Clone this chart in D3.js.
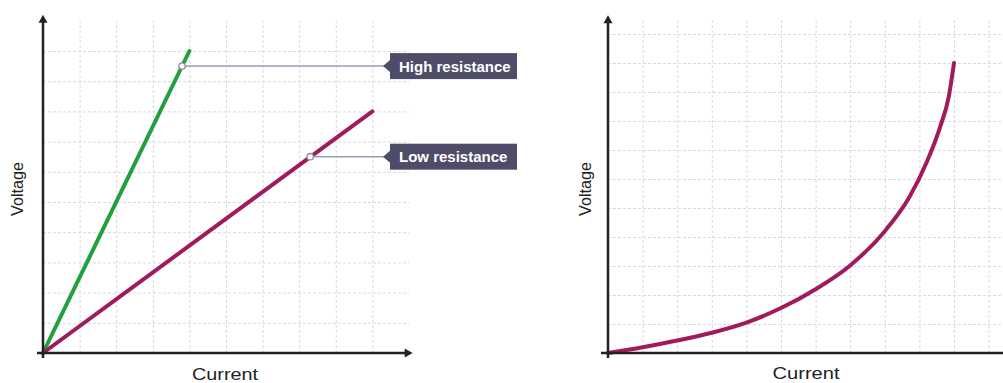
<!DOCTYPE html>
<html><head><meta charset="utf-8">
<script src="https://cdn.jsdelivr.net/npm/d3@7"></script>
<style>
html,body{margin:0;padding:0;background:#fff;}
svg{display:block;}
text{font-family:"Liberation Sans",Arial,sans-serif;}
</style></head>
<body>
<svg id="chart" width="1003" height="383"></svg>
<script>
// ---- Data ----
const leftGridX = [1,2,3,4,5,6,7,8,9];
const leftGridY = [1,2,3,4,5,6,7,8,9,10];
const highCurrent = [0, 4];
const highVoltage = [0, 10];
const lowCurrent = [0, 9];
const lowVoltage = [0, 8];
const labelNames = ["High resistance", "Low resistance"];
const markerCurrent = [3.8, 7.3];
const markerVoltage = [9.5, 6.5];

const rightGridX = [1,2,3,4,5,6,7,8,9,10,11];
const rightGridY = [1,2,3,4,5,6,7,8,9,10,11];
const curveCurrent = [0, 1, 2, 3, 4, 5, 6, 7, 8, 8.7, 9.2, 9.6, 9.85, 10];
const curveVoltage = [0, 0.2, 0.43, 0.7, 1.05, 1.55, 2.2, 3.02, 4.2, 5.35, 6.55, 7.8, 8.85, 10];

const xTitle = "Current", yTitle = "Voltage";

const svg = d3.select("#chart");
const GRID = "#d9d7ea", AXIS = "#222", GREEN = "#23a03e", PURPLE = "#a01a5c", BOX = "#4e4c69";

function grid(g, x, y, gx, gy, xMax, yMax) {
  g.append("g").attr("transform", `translate(0,${y(0)})`)
    .call(d3.axisBottom(x).tickValues(gx).tickFormat("").tickSize(-(y(0) - y(yMax))).tickSizeOuter(0))
    .call(a => a.select(".domain").remove())
    .call(a => a.selectAll("line").attr("stroke", GRID).attr("stroke-dasharray", "3,2").attr("stroke-width", 1));
  g.append("g").attr("transform", `translate(${x(0)},0)`)
    .call(d3.axisLeft(y).tickValues(gy).tickFormat("").tickSize(-(x(xMax) - x(0))).tickSizeOuter(0))
    .call(a => a.select(".domain").remove())
    .call(a => a.selectAll("line").attr("stroke", GRID).attr("stroke-dasharray", "3,2").attr("stroke-width", 1));
}

function yAxis(g, x, y, yTip) {
  const ox = x(0), oy = y(0), ty = y(yTip);
  g.append("line").attr("x1", ox).attr("x2", ox).attr("y1", oy + 5).attr("y2", ty + 5)
    .attr("stroke", AXIS).attr("stroke-width", 2.5);
  g.append("path").attr("d", `M${ox},${ty} L${ox - 4.5},${ty + 8} L${ox + 4.5},${ty + 8} Z`).attr("fill", AXIS);
}

function title(g, x, y, txt, len, rotate) {
  const t = g.append("text").attr("text-anchor", "middle").attr("font-size", 17).attr("fill", "#222")
    .attr("textLength", len).attr("lengthAdjust", "spacingAndGlyphs").text(txt);
  if (rotate) t.attr("transform", `translate(${x},${y}) rotate(-90)`);
  else t.attr("x", x).attr("y", y);
}

// ---- Left chart ----
const xL = d3.scaleLinear().domain([0, 10]).range([43, 409]);
const yL = d3.scaleLinear().domain([0, 10]).range([353, 51]);
const gL = svg.append("g");
grid(gL, xL, yL, leftGridX, leftGridY, 10, 11);

const line = d3.line().x(d => d[0]).y(d => d[1]);
gL.append("path").attr("d", line(highCurrent.map((c, i) => [xL(c), yL(highVoltage[i])])))
  .attr("fill", "none").attr("stroke", GREEN).attr("stroke-width", 4).attr("stroke-linecap", "round");
gL.append("path").attr("d", line(lowCurrent.map((c, i) => [xL(c), yL(lowVoltage[i])])))
  .attr("fill", "none").attr("stroke", PURPLE).attr("stroke-width", 4).attr("stroke-linecap", "round");

yAxis(gL, xL, yL, 11.2);
{
  const oy = yL(0), tx = xL(10.1);
  gL.append("line").attr("x1", xL(0) - 6).attr("x2", tx - 5).attr("y1", oy).attr("y2", oy)
    .attr("stroke", AXIS).attr("stroke-width", 2.5);
  gL.append("path").attr("d", `M${tx},${oy} L${tx - 8},${oy - 4.5} L${tx - 8},${oy + 4.5} Z`).attr("fill", AXIS);
}

labelNames.forEach((name, i) => {
  const mx = xL(markerCurrent[i]), my = yL(markerVoltage[i]);
  const bx = 390, bw = 127, bh = 26;
  gL.append("line").attr("x1", mx).attr("x2", bx - 6).attr("y1", my).attr("y2", my)
    .attr("stroke", "#9c9bb2").attr("stroke-width", 1.5);
  gL.append("circle").attr("cx", mx).attr("cy", my).attr("r", 3.2)
    .attr("fill", "#fff").attr("stroke", "#8c8ba4").attr("stroke-width", 1.3);
  gL.append("path").attr("d", `M${bx - 7},${my} L${bx},${my - 6} L${bx},${my + 6} Z`).attr("fill", BOX);
  gL.append("rect").attr("x", bx).attr("y", my - bh / 2).attr("width", bw).attr("height", bh).attr("fill", BOX);
  gL.append("text").attr("x", bx + 9).attr("y", my + 5.5).text(name)
    .attr("fill", "#fff").attr("font-size", 15).attr("font-weight", "bold");
});

title(gL, 225, 380, xTitle, 66, false);
title(gL, 23, 189, yTitle, 54, true);

// ---- Right chart ----
const xR = d3.scaleLinear().domain([0, 10]).range([608, 954]);
const yR = d3.scaleLinear().domain([0, 10]).range([353, 63]);
const gR = svg.append("g");
grid(gR, xR, yR, rightGridX, rightGridY, 11.5, 11.5);

gR.append("path")
  .attr("d", d3.line().curve(d3.curveMonotoneX).x(d => xR(d[0])).y(d => yR(d[1]))(curveCurrent.map((c, i) => [c, curveVoltage[i]])))
  .attr("fill", "none").attr("stroke", PURPLE).attr("stroke-width", 4).attr("stroke-linecap", "round");

yAxis(gR, xR, yR, 11.65);
gR.append("line").attr("x1", xR(0) - 7).attr("x2", 1003).attr("y1", yR(0)).attr("y2", yR(0))
  .attr("stroke", AXIS).attr("stroke-width", 2.5);

title(gR, 806, 379, xTitle, 67, false);
title(gR, 591, 189, yTitle, 54, true);
</script>
</body></html>
